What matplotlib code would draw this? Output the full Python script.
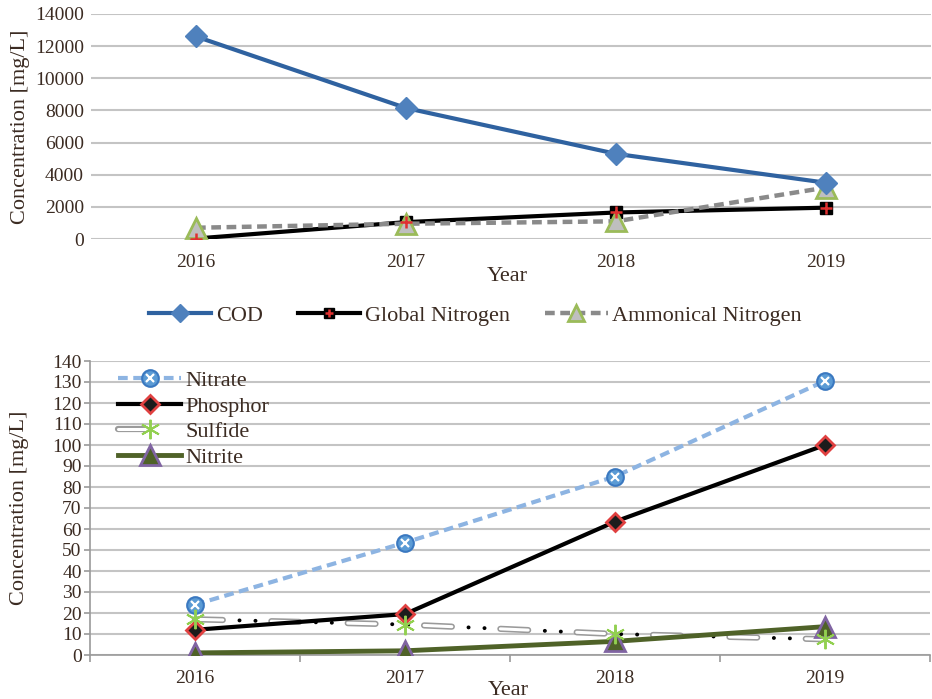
import numpy as np
import matplotlib
matplotlib.use("Agg")
import matplotlib.pyplot as plt
from matplotlib.lines import Line2D

plt.rcParams['font.family'] = ['Liberation Serif', 'DejaVu Serif']
plt.rcParams['lines.scale_dashes'] = False
txt = '#3b2b22'
grid = '#c4c4c4'

years = ['2016', '2017', '2018', '2019']

# top panel
cod = [12600, 8150, 5300, 3500]
global_n = [30, 1050, 1650, 1950]
ammon_n = [700, 950, 1100, 3200]

# bottom panel
nitrate = [24, 53.5, 85, 130.5]
phosphor = [12, 19.5, 63.5, 100]
sulfide = [17, 14.5, 10, 7.5]
nitrite = [1, 2, 6.5, 13.5]

x = np.arange(len(years))

fig = plt.figure(figsize=(9.32, 6.99), dpi=100)
ax1 = fig.add_axes([91/932, 1-239/699, 840/932, 225/699])
ax2 = fig.add_axes([90/932, 1-655/699, 840/932, 294/699])

# ---------- top ----------
l_cod, = ax1.plot(x, cod, color='#2f62a0', lw=3, marker='D', ms=11,
                  mfc='#4f81bd', mec='#4f81bd', zorder=5)
l_gn, = ax1.plot(x, global_n, color='black', lw=3, marker='s', ms=9,
                 mfc='black', mec='black', zorder=4)
ax1.plot(x, global_n, ls='none', marker='+', ms=8, mew=1.8, color='#e03030', zorder=6)
l_an, = ax1.plot(x, ammon_n, color='#8a8a8a', lw=3.2, dashes=(7, 4),
                 marker='^', ms=14, mfc='#bfbfbf', mec='#9bbb59', mew=2, zorder=4)

ax1.set_xlim(-0.5, 3.5)
ax1.set_ylim(0, 14000)
ax1.set_yticks(np.arange(0, 14001, 2000))
ax1.set_xticks(x)
ax1.set_xticklabels(years)
ax1.yaxis.grid(True, color=grid, lw=1.5)
ax1.set_axisbelow(True)
for s in ax1.spines.values():
    s.set_visible(False)
ax1.tick_params(axis='both', length=0, labelsize=14, colors=txt)
ax1.tick_params(axis='x', pad=11)
ax1.tick_params(axis='y', pad=5)
ax1.set_ylabel('Concentration [mg/L]', fontsize=16, color=txt)
ax1.yaxis.set_label_coords(-0.073, 0.5)
ax1.set_xlabel('Year', fontsize=16, color=txt)
ax1.xaxis.set_label_coords(0.496, -0.125)

h_gn = (Line2D([], [], color='black', lw=3, marker='s', ms=9, mfc='black', mec='black'),
        Line2D([], [], ls='none', marker='+', ms=8, mew=1.8, color='#e03030'))
fig.legend([l_cod, h_gn, l_an], ['COD', 'Global Nitrogen', 'Ammonical Nitrogen'],
           loc='center', bbox_to_anchor=(0.51, 1-316/699), ncol=3, frameon=False,
           fontsize=16, handlelength=2.8, handletextpad=0.2, columnspacing=1.6,
           markerscale=0.8, labelcolor=txt)

# ---------- bottom ----------
l_nt, = ax2.plot(x, nitrate, color='#8db4e2', lw=3, dashes=(7, 4), marker='o', ms=12,
                 mfc='#5b9bd5', mec='#3a78c0', mew=1.5, zorder=5)
ax2.plot(x, nitrate, ls='none', marker='x', ms=6, mew=1.6, color='white', zorder=6)
l_ph, = ax2.plot(x, phosphor, color='black', lw=3, marker='D', ms=9,
                 mfc='#1c1c1c', mec='#e04040', mew=2, zorder=5)
# sulfide: hollow long dashes with two black dots
ax2.plot(x, sulfide, color='#9a9a9a', lw=4.5, dashes=(20, 35),
         dash_capstyle='round', zorder=3)
ax2.plot(x, sulfide, color='white', lw=2.2, dashes=(20, 35), dash_capstyle='round', zorder=3)
ax2.plot(x, sulfide, color='black', lw=2.8, linestyle=(23, (0.1, 11.4, 0.1, 43.4)),
         dash_capstyle='round', zorder=3)
ax2.plot(x, sulfide, ls='none', marker=(6, 2, 0), ms=14, mew=1.4, color='#92d050', zorder=6)
l_ni, = ax2.plot(x, nitrite, color='#4f6228', lw=3.5, marker='^', ms=15,
                 mfc='#4f6228', mec='#8064a2', mew=2, zorder=4)

ax2.set_xlim(-0.5, 3.5)
ax2.set_ylim(0, 140)
ax2.set_yticks(np.arange(0, 141, 10))
ax2.set_xticks(x)
ax2.set_xticklabels(years)
ax2.set_xticks(np.arange(-0.5, 3.6, 1), minor=True)
ax2.yaxis.grid(True, color=grid, lw=1.5)
ax2.set_axisbelow(True)
for k in ['top', 'right']:
    ax2.spines[k].set_visible(False)
for k in ['left', 'bottom']:
    ax2.spines[k].set_color('#9a9a9a')
    ax2.spines[k].set_linewidth(1.2)
ax2.tick_params(axis='both', which='major', labelsize=14, colors=txt)
ax2.tick_params(axis='x', which='major', length=0, pad=11)
ax2.tick_params(axis='x', which='minor', length=5, color='#9a9a9a', width=1.2)
ax2.tick_params(axis='y', length=4, color='#9a9a9a', width=1.2, pad=2)
ax2.set_ylabel('Concentration [mg/L]', fontsize=16, color=txt)
ax2.yaxis.set_label_coords(-0.073, 0.5)
ax2.set_xlabel('Year', fontsize=16, color=txt)
ax2.xaxis.set_label_coords(0.498, -0.088)

h_nt = (l_nt, Line2D([], [], ls='none', marker='x', ms=6, mew=1.6, color='white'))
h_su = (Line2D([], [], color='#9a9a9a', lw=4.5, dashes=(20, 35), dash_capstyle='round'),
        Line2D([], [], color='white', lw=2.2, dashes=(20, 35), dash_capstyle='round'),
        Line2D([], [], ls='none', marker=(6, 2, 0), ms=14, mew=1.4, color='#92d050'))
ax2.legend([h_nt, l_ph, h_su, l_ni], ['Nitrate', 'Phosphor', 'Sulfide', 'Nitrite'],
           loc='upper left', bbox_to_anchor=(0.01, 1.035), frameon=False, fontsize=16,
           handlelength=2.8, handletextpad=0.2, labelspacing=0.22, labelcolor=txt)

fig.savefig('out.png', dpi=100)
